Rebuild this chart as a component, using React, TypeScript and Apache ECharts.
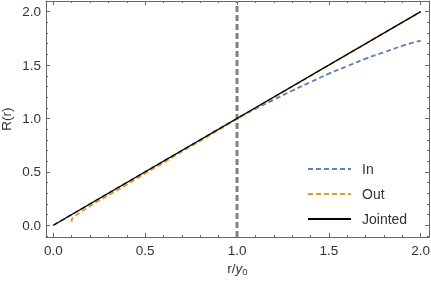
import React, { useEffect, useRef } from "react";
import * as echarts from "echarts";

const inX = [0, 0.2, 0.4, 0.6, 0.8, 1.0, 1.1, 1.2, 1.3, 1.4, 1.5, 1.6, 1.7, 1.8, 1.9, 2.0];
const inY = [0, 0.2, 0.4, 0.6, 0.8, 1.0, 1.09, 1.175, 1.26, 1.34, 1.42, 1.49, 1.56, 1.62, 1.68, 1.73];

const outX = [0.1, 0.101, 0.11, 0.13, 0.16, 0.2, 0.3, 0.4, 0.5, 0.6, 0.7, 0.8, 1.0, 1.5, 2.0];
const outY = [0.03, 0.06, 0.08, 0.1, 0.135, 0.18, 0.28, 0.38, 0.485, 0.585, 0.69, 0.79, 0.995, 1.5, 2.0];

const jointX = [0, 2];
const jointY = [0, 2];

const vlineX = [1, 1];
const vlineY = [-0.11, 2.1];

const xMajor = [0, 0.5, 1.0, 1.5, 2.0];
const xMinor = [0.1, 0.2, 0.3, 0.4, 0.6, 0.7, 0.8, 0.9, 1.1, 1.2, 1.3, 1.4, 1.6, 1.7, 1.8, 1.9];
const yMajor = [0, 0.5, 1.0, 1.5, 2.0];
const yMinor = [-0.1, 0.1, 0.2, 0.3, 0.4, 0.6, 0.7, 0.8, 0.9, 1.1, 1.2, 1.3, 1.4, 1.6, 1.7, 1.8, 1.9];

const FRAME = "#666";
const FONT = "Liberation Sans";

function zip(a: number[], b: number[]) {
  return a.map((v, i) => [v, b[i]]);
}

export default function App() {
  const ref = useRef<HTMLDivElement>(null);
  useEffect(() => {
    if (!ref.current) return;
    const chart = echarts.init(ref.current, undefined, { renderer: "svg" });
    const xRange = { min: -0.04, max: 2.045 };
    const yRange = { min: -0.11, max: 2.1 };
    const mkAxis = (
      pos: string,
      values: number[],
      len: number,
      showLine: boolean,
      labels: boolean,
      range: any,
      extra: any = {}
    ) => ({
      type: "value",
      position: pos,
      ...range,
      axisLine: { show: showLine, onZero: false, lineStyle: { color: FRAME, width: 1 } },
      axisTick: {
        show: true,
        inside: true,
        length: len,
        customValues: values,
        lineStyle: { color: FRAME, width: 1 },
      },
      axisLabel: labels
        ? {
            show: true,
            customValues: values,
            formatter: (v: number) => v.toFixed(1),
            color: "#333",
            fontFamily: FONT,
            fontSize: 13.5,
            margin: pos === "bottom" ? 6 : 5,
          }
        : { show: false },
      splitLine: { show: false },
      ...extra,
    });
    chart.setOption({
      animation: false,
      grid: { left: 46, right: 2, top: 1, bottom: 44, containLabel: false, outerBoundsMode: "none" },
      xAxis: [
        mkAxis("bottom", xMajor, 4, true, true, xRange, {
          name: "r/{i|y}{s|0}",
          nameLocation: "middle",
          nameGap: 23,
          nameMoveOverlap: false,
          nameTextStyle: {
            color: "#333",
            fontFamily: FONT,
            fontSize: 13.5,
            rich: {
              i: { fontStyle: "italic", fontFamily: FONT, fontSize: 13.5, color: "#333" },
              s: { fontFamily: FONT, fontSize: 9.5, color: "#333", padding: [6, 0, 0, 0] },
            },
          },
        }),
        mkAxis("bottom", xMinor, 2, false, false, xRange),
        mkAxis("top", xMajor, 4, true, false, xRange),
        mkAxis("top", xMinor, 2, false, false, xRange),
      ],
      yAxis: [
        mkAxis("left", yMajor, 4, true, true, yRange, {
          name: "R(r)",
          nameLocation: "middle",
          nameGap: 33,
          nameMoveOverlap: false,
          nameTextStyle: { color: "#333", fontFamily: FONT, fontSize: 13.5 },
        }),
        mkAxis("left", yMinor, 2, false, false, yRange),
        mkAxis("right", yMajor, 4, true, false, yRange),
        mkAxis("right", yMinor, 2, false, false, yRange),
      ],
      legend: {
        orient: "vertical",
        left: 302,
        top: 157,
        itemWidth: 43,
        itemHeight: 14,
        itemGap: 11,
        itemStyle: { opacity: 0 },
        data: ["In", "Out", "Jointed"],
        textStyle: { color: "#333", fontFamily: FONT, fontSize: 14, padding: [0, 0, 0, 6] },
      },
      series: [
        {
          name: "vline",
          type: "line",
          data: zip(vlineX, vlineY),
          symbol: "none",
          lineStyle: { color: "#808080", width: 3, type: [6, 3] },
          silent: true,
        },
        {
          name: "In",
          type: "line",
          data: zip(inX, inY),
          symbol: "none",
          smooth: true,
          itemStyle: { color: "#5E81B5" },
          lineStyle: { color: "#5E81B5", width: 1.8, type: [5, 3] },
        },
        {
          name: "Out",
          type: "line",
          data: zip(outX, outY),
          symbol: "none",
          itemStyle: { color: "#E19C24" },
          lineStyle: { color: "#E19C24", width: 1.8, type: [5, 3] },
        },
        {
          name: "Jointed",
          type: "line",
          data: zip(jointX, jointY),
          symbol: "none",
          itemStyle: { color: "#000" },
          lineStyle: { color: "#000", width: 1.3 },
        },
      ],
    });
    return () => chart.dispose();
  }, []);
  return (
    <div
      ref={ref}
      style={{ position: "fixed", left: 0, top: 0, width: 431, height: 281 }}
    />
  );
}
